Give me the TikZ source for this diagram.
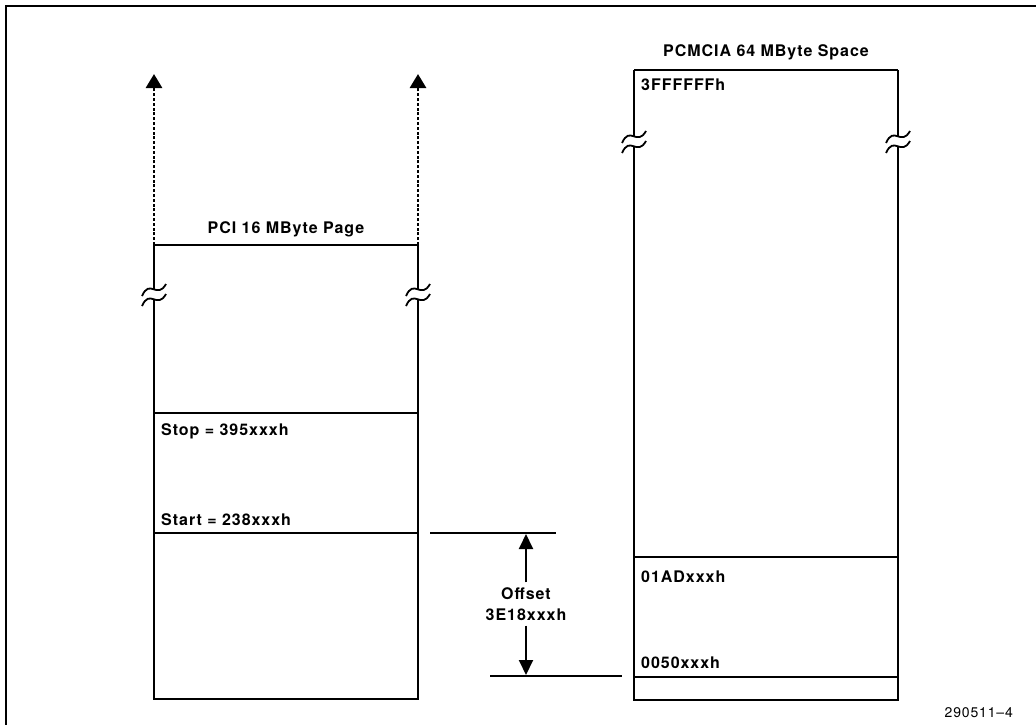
\documentclass[tikz,border=0pt]{standalone}
\usepackage{fontspec}
\setmainfont{TeX Gyre Heros}
\newfontfamily\lblfont[LetterSpace=6]{TeX Gyre Heros}
\usetikzlibrary{arrows.meta}

\begin{document}
\begin{tikzpicture}[
        x=1pt, y=-1pt,
        frame_line/.style={line width=2pt},
        map_line/.style={line width=2pt},
        addr_label/.style={anchor=base west, inner sep=0pt, font=\lblfont\bfseries\fontsize{16}{19}\selectfont},
        title_label/.style={anchor=base, inner sep=0pt, font=\lblfont\bfseries\fontsize{16}{19}\selectfont},
        up_arrow/.style={line width=2.8pt, dash pattern=on 3pt off 1.8pt, -{Triangle[width=16pt,length=14pt]}},
        offset_arrow/.style={line width=2pt, -{Triangle[width=14pt,length=15pt]}},
        brk/.pic={
            \draw[line width=1.8pt] (-12,1) .. controls (-4,-17) and (3,5) .. (12,-11);
            \draw[line width=1.8pt] (-12,11) .. controls (-4,-7) and (3,15) .. (12,-1);
        }
    ]
        \useasboundingbox (0,0) rectangle (1036,725);
        % Rahmen
        \draw[frame_line] (6,725) -- (6,6) -- (1036,6);

        % PCI Seite
        \coordinate (pci_tl) at (154,245);
        \coordinate (pci_tr) at (418,245);
        \coordinate (pci_bl) at (154,699);
        \coordinate (pci_br) at (418,699);
        \draw[map_line] (pci_tl) -- (pci_tr);
        \draw[map_line] (pci_tl) -- (154,290) (154,300) -- (pci_bl) -- (pci_br) -- (418,300) (418,290) -- (pci_tr);
        \pic at (154,295) {brk};
        \pic at (418,295) {brk};
        \draw[map_line] (154,413) -- (418,413);
        \draw[map_line] (154,533) -- (418,533);
        \coordinate (pci_up_l) at (154,74);
        \coordinate (pci_up_r) at (418,74);
        \draw[up_arrow] (pci_tl) -- (pci_up_l);
        \draw[up_arrow] (pci_tr) -- (pci_up_r);
        \node[title_label] (pci_title) at (286,233) {PCI 16 MByte Page};
        \node[addr_label] (stop) at (161,435) {Stop = 395xxxh};
        \node[addr_label] (start) at (161,525) {Start = 238xxxh};

        % PCMCIA Seite
        \coordinate (pc_tl) at (634,70);
        \coordinate (pc_tr) at (898,70);
        \coordinate (pc_bl) at (634,700);
        \coordinate (pc_br) at (898,700);
        \draw[map_line] (pc_tl) -- (pc_tr);
        \draw[map_line] (pc_tl) -- (634,137) (634,147) -- (pc_bl) -- (pc_br) -- (898,147) (898,137) -- (pc_tr);
        \pic at (634,142) {brk};
        \pic at (898,142) {brk};
        \draw[map_line] (634,557) -- (898,557);
        \draw[map_line] (634,677) -- (898,677);
        \node[title_label] (pc_title) at (766,57) {PCMCIA 64 MByte Space};
        \node[addr_label] (top_addr) at (641,90) {3FFFFFFh};
        \node[addr_label] (ad_addr) at (641,582) {01ADxxxh};
        \node[addr_label] (low_addr) at (641,668) {0050xxxh};

        % Offset
        \coordinate (off_a) at (430,533);
        \coordinate (off_b) at (556,533);
        \coordinate (off_c) at (490,676);
        \coordinate (off_d) at (622,676);
        \draw[map_line] (off_a) -- (off_b);
        \draw[map_line] (off_c) -- (off_d);
        \node[title_label, anchor=center, align=center, inner sep=5pt] (offset) at (526,604) {Offset\\[2pt]3E18xxxh};
        \draw[offset_arrow] (offset.north) -- (526,534);
        \draw[offset_arrow] (offset.south) -- (526,675);

        \node[anchor=base east, inner sep=0pt, font=\lblfont\fontsize{14}{16}\selectfont] (fig_id) at (1013,717) {290511–4};
    \end{tikzpicture}
\end{document}
